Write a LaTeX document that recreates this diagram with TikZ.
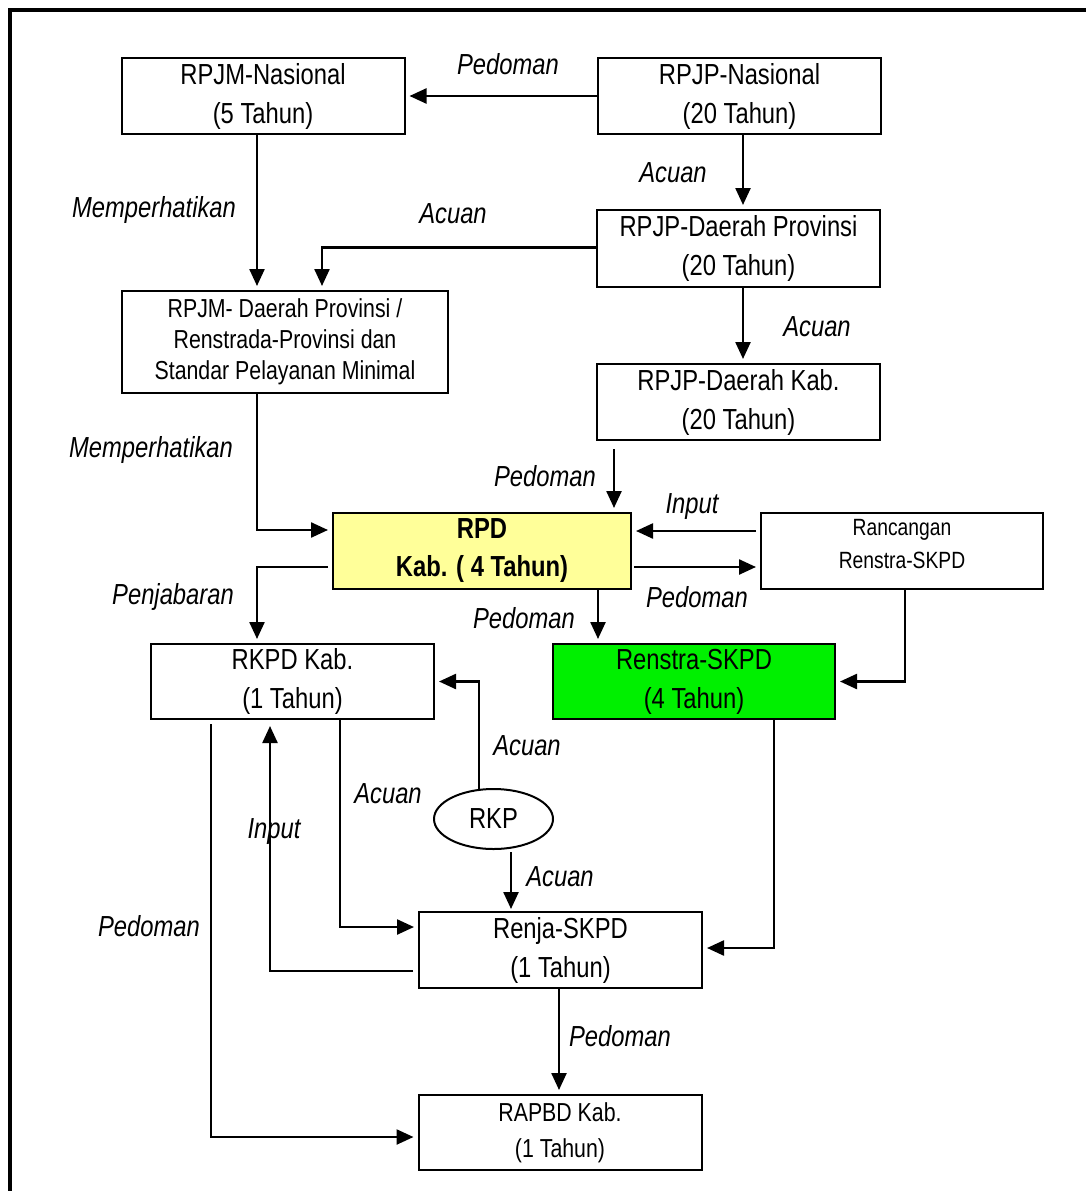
\documentclass[tikz,border=0pt]{standalone}
\usepackage{fontspec}
\setmainfont{Liberation Sans}[FakeStretch=0.82]
\usetikzlibrary{arrows.meta,shapes.geometric}
\definecolor{rpdyellow}{RGB}{255,255,153}
\definecolor{skpdgreen}{RGB}{0,240,0}
\begin{document}
\begin{tikzpicture}[x=1pt,y=-1pt,
  box/.style={draw, line width=2pt, inner sep=0pt, align=center, font=\fontsize{29}{39}\selectfont},
  stdbox/.style={box, minimum width=283pt, minimum height=76pt},
  lbl/.style={font=\fontsize{29}{35}\selectfont\itshape, inner sep=0pt},
  arr/.style={line width=2.4pt, -{Triangle[length=17pt,width=15pt]}, shorten >=4pt},
  ln/.style={line width=2.4pt}]
\useasboundingbox (0,0) rectangle (1086,1191);
\fill[white] (0,0) rectangle (1086,1191);
% outer frame (top and left edges visible)
\draw[line width=4pt] (9.5,1191) -- (9.5,9.5) -- (1086,9.5);

% boxes
\node[stdbox] (rpjmn) at (263,96) {RPJM-Nasional\\(5 Tahun)};
\node[stdbox] (rpjpn) at (739.5,96) {RPJP-Nasional\\(20 Tahun)};
\node[stdbox, minimum height=77pt] (rpjpdp) at (738.5,248.5) {RPJP-Daerah Provinsi\\(20 Tahun)};
\node[box, minimum width=326pt, minimum height=102pt, font=\fontsize{26}{31}\selectfont] (rpjmdp) at (285,342)
  {RPJM- Daerah Provinsi /\\Renstrada-Provinsi dan\\Standar Pelayanan Minimal};
\node[stdbox] (rpjpdk) at (738.5,402) {RPJP-Daerah Kab.\\(20 Tahun)};
\node[stdbox, minimum width=298pt, fill=rpdyellow, font=\fontsize{29}{38}\selectfont\bfseries] (rpd) at (482,551) {RPD\\Kab. ( 4 Tahun)};
\node[stdbox, minimum width=282pt,
  label={[font=\fontsize{23.5}{33}\selectfont, align=center, yshift=6.5pt]center:Rancangan\\Renstra-SKPD}] (ranc) at (902,551) {};
\node[stdbox, minimum height=75pt] (rkpd) at (292.5,681.5) {RKPD Kab.\\(1 Tahun)};
\node[stdbox, minimum width=282pt, minimum height=75pt, fill=skpdgreen] (renstra) at (694,681.5) {Renstra-SKPD\\(4 Tahun)};
\node[draw, ellipse, line width=2pt, inner sep=0pt, minimum width=119pt, minimum height=60pt, font=\fontsize{29}{35}\selectfont] (rkp) at (493.5,819) {RKP};
\node[stdbox] (renja) at (560.5,950) {Renja-SKPD\\(1 Tahun)};
\node[stdbox, minimum height=75pt, font=\fontsize{26}{36}\selectfont] (rapbd) at (560,1132.5) {RAPBD Kab.\\(1 Tahun)};

% connectors
\draw[arr] (rpjpn.west) -- (rpjmn.east);
\draw[arr] ([xshift=3.5pt]rpjpn.south) -- ([xshift=3.5pt]rpjpn.south |- rpjpdp.north);
\draw[arr] ([xshift=-6pt]rpjmn.south) -- ([xshift=-6pt]rpjmn.south |- rpjmdp.north);
\draw[arr] ([yshift=1pt]rpjpdp.west) -| ([xshift=37pt]rpjmdp.north);
\draw[arr] ([xshift=4.5pt]rpjpdp.south) -- ([xshift=4.5pt]rpjpdp.south |- rpjpdk.north);
\draw[arr] ([xshift=-28pt]rpjmdp.south) |- ([yshift=21pt]rpd.west);
\draw[arr, shorten <=8pt] ([xshift=-124.5pt]rpjpdk.south) -- ([xshift=-124.5pt]rpjpdk.south |- rpd.north);
\draw[arr, shorten <=4pt] ([yshift=20pt]ranc.west) -- ([yshift=20pt]rpd.east);
\draw[arr, shorten <=2pt] ([yshift=-16pt]rpd.east) -- ([yshift=-16pt]ranc.west);
\draw[arr] ([xshift=116pt]rpd.south) -- ([xshift=116pt]rpd.south |- renstra.north);
\draw[arr, shorten <=4pt] ([yshift=-16pt]rpd.west) -| ([xshift=-35.5pt]rkpd.north);
\draw[arr] ([xshift=3pt]ranc.south) |- (renstra.east);
\draw[arr] ([xshift=-14.5pt,yshift=-1pt]rkp.north) |- (rkpd.east);
\draw[arr] ([xshift=17.5pt,yshift=-2pt]rkp.south) -- ([xshift=17.5pt,yshift=-2pt]rkp.south |- renja.north);
\draw[arr] ([xshift=47.5pt]rkpd.south) |- ([yshift=23pt]renja.west);
\draw[arr, shorten <=5pt, shorten >=6pt] ([yshift=-21pt]renja.west) -| ([xshift=-22.5pt]rkpd.south);
\draw[arr, shorten <=4pt] ([xshift=-81.5pt]rkpd.south) |- ([yshift=-4.5pt]rapbd.west);
\draw[arr] ([xshift=80pt]renstra.south) |- ([yshift=2pt]renja.east);
\draw[arr] ([xshift=-1.5pt]renja.south) -- ([xshift=-1.5pt]renja.south |- rapbd.north);

% labels
\node[lbl] (l1) at (508,64) {Pedoman};
\node[lbl] (l2) at (673,173) {Acuan};
\node[lbl] (l3) at (154,210) {Memperhatikan};
\node[lbl] (l4) at (453,214) {Acuan};
\node[lbl] (l5) at (817,327) {Acuan};
\node[lbl] (l6) at (151,450) {Memperhatikan};
\node[lbl] (l7) at (545,476) {Pedoman};
\node[lbl] (l8) at (692,507) {Input};
\node[lbl] (l9) at (697,597) {Pedoman};
\node[lbl] (l10) at (524,618) {Pedoman};
\node[lbl] (l11) at (173,597) {Penjabaran};
\node[lbl] (l12) at (527,746) {Acuan};
\node[lbl] (l13) at (388,794) {Acuan};
\node[lbl] (l14) at (274,832) {Input};
\node[lbl] (l15) at (560,877) {Acuan};
\node[lbl] (l16) at (149,926) {Pedoman};
\node[lbl] (l17) at (620,1036) {Pedoman};
\end{tikzpicture}
\end{document}
